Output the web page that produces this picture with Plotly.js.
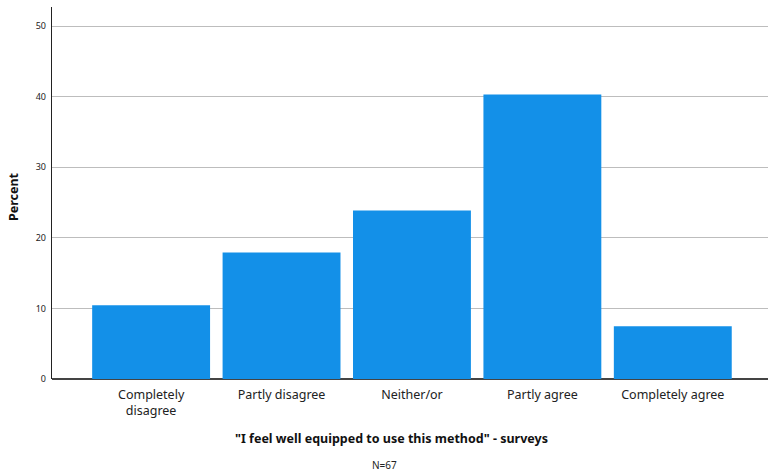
<!DOCTYPE html>
<html>
<head>
<meta charset="utf-8">
<script src="https://cdn.plot.ly/plotly-3.0.1.min.js"></script>
<style>html,body{margin:0;padding:0;background:#fff;}#chart{width:768px;height:475px;}</style>
</head>
<body>
<div id="chart"></div>
<script>
const categories = ["Completely<br>disagree", "Partly disagree", "Neither/or", "Partly agree", "Completely agree"];
const percents = [10.45, 17.91, 23.88, 40.30, 7.46];
const yTicks = [0, 10, 20, 30, 40, 50];
const xTitle = "\"I feel well equipped to use this method\" - surveys";
const yTitle = "Percent";
const note = "N=67";

const FONT = "Noto Sans, Open Sans, sans-serif";
const L = 52, W = 716, T = 7, H = 372;
const px = x => (x - L) / W;
const py = y => (T + H - y) / H;

const trace = {
  type: "bar",
  x: categories.map((c, i) => i),
  y: percents,
  marker: {color: "#1390E8", line: {width: 0}},
  hoverinfo: "skip"
};

const layout = {
  width: 768, height: 475,
  margin: {l: L, r: 768 - L - W, t: T, b: 475 - T - H},
  paper_bgcolor: "#fff", plot_bgcolor: "#fff",
  showlegend: false,
  bargap: 0.096,
  font: {family: FONT, color: "#222"},
  xaxis: {
    range: [-0.76, 4.73],
    tickvals: categories.map((c, i) => i),
    ticktext: categories,
    tickfont: {size: 12.5, color: "#222"},
    ticklabelstandoff: 6,
    showgrid: false, zeroline: false,
    showline: false, ticks: ""
  },
  yaxis: {
    range: [0, 52.7],
    tickvals: yTicks,
    ticktext: yTicks.map(String),
    tickfont: {size: 9, color: "#222"},
    ticklabelstandoff: 3,
    showgrid: true, gridcolor: "#BDBDBD", gridwidth: 1,
    zeroline: true, zerolinecolor: "#444", zerolinewidth: 1.6,
    showline: true, linecolor: "#222", linewidth: 1.2,
    ticks: "", ticklen: 0
  },
  annotations: [
    {text: "<b>" + xTitle + "</b>", xref: "paper", yref: "paper", x: px(391), y: py(438),
     xanchor: "center", yanchor: "middle", showarrow: false, font: {size: 12.5, color: "#111"}},
    {text: note, xref: "paper", yref: "paper", x: px(384), y: py(465),
     xanchor: "center", yanchor: "middle", showarrow: false, font: {size: 10, color: "#222"}},
    {text: "<b>" + yTitle + "</b>", xref: "paper", yref: "paper", x: px(13), y: py(197),
     xanchor: "center", yanchor: "middle", textangle: -90, showarrow: false, font: {size: 12.5, color: "#111"}}
  ]
};

Plotly.newPlot("chart", [trace], layout, {displayModeBar: false, staticPlot: true});
</script>
</body>
</html>
